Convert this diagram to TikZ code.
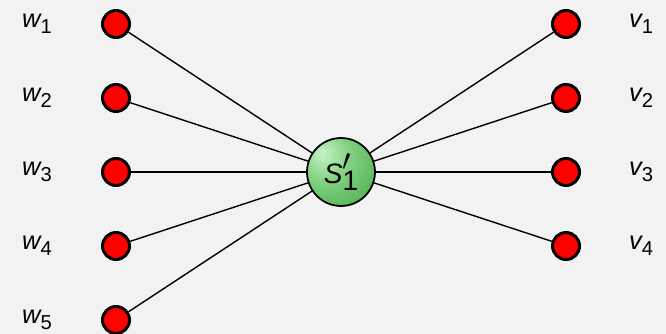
\documentclass[tikz,border=0pt]{standalone}
\usepackage{fontspec}
\setmainfont{Liberation Sans}
\usepackage{tikz}
\definecolor{bgray}{RGB}{242,242,242}
\definecolor{nodered}{RGB}{255,0,0}
\definecolor{gtop}{RGB}{200,242,200}
\definecolor{gmid}{RGB}{130,210,130}
\definecolor{gbot}{RGB}{60,160,60}
\pgfdeclareradialshading{greenball}{\pgfpoint{-14bp}{14bp}}{color(0bp)=(gtop); color(18bp)=(gmid); color(52bp)=(gbot); color(100bp)=(gbot)}
\newcommand{\vlabel}[2]{{\itshape #1}\raisebox{-0.45ex}{\fontsize{11.5}{12}\selectfont #2}}

\begin{document}
\begin{tikzpicture}[
      x=0.02cm,y=-0.02cm,
      leaf/.style={circle,draw=black,line width=1.7pt,fill=nodered,minimum size=0.54cm,inner sep=0pt},
      hub/.style={circle,draw=black,line width=1pt,shading=greenball,minimum size=1.36cm,inner sep=0pt},
      tag/.style={font=\fontsize{14.5}{16}\selectfont,inner sep=0pt},
      edge/.style={line width=0.8pt}
    ]
      \fill[bgray] (0,0) rectangle (666,334);
      \useasboundingbox (0,0) rectangle (666,334);
      \node[hub] (s) at (341,172) {\fontsize{16}{18}\selectfont\itshape S\rlap{\raisebox{0.85ex}{\upshape$\prime$}}\raisebox{-0.5ex}{\upshape 1}\hspace{1pt}};
      % left side
      \node[leaf] (w1) at (116,24) {};
      \node[leaf] (w2) at (116,98) {};
      \node[leaf] (w3) at (116,172) {};
      \node[leaf] (w4) at (116,246) {};
      \node[leaf] (w5) at (116,320) {};
      \node[tag] (lw1) at (37,24) {\vlabel{w}{1}};
      \node[tag] (lw2) at (37,98) {\vlabel{w}{2}};
      \node[tag] (lw3) at (37,172) {\vlabel{w}{3}};
      \node[tag] (lw4) at (37,246) {\vlabel{w}{4}};
      \node[tag] (lw5) at (37,320) {\vlabel{w}{5}};
      % right side
      \node[leaf] (v1) at (566,24) {};
      \node[leaf] (v2) at (566,98) {};
      \node[leaf] (v3) at (566,172) {};
      \node[leaf] (v4) at (566,246) {};
      \node[tag] (lv1) at (641,24) {\vlabel{v}{1}};
      \node[tag] (lv2) at (641,98) {\vlabel{v}{2}};
      \node[tag] (lv3) at (641,172) {\vlabel{v}{3}};
      \node[tag] (lv4) at (641,246) {\vlabel{v}{4}};
      \draw[edge] (w1) -- (s);
      \draw[edge] (w2) -- (s);
      \draw[edge] (w3) -- (s);
      \draw[edge] (w4) -- (s);
      \draw[edge] (w5) -- (s);
      \draw[edge] (v1) -- (s);
      \draw[edge] (v2) -- (s);
      \draw[edge] (v3) -- (s);
      \draw[edge] (v4) -- (s);
    \end{tikzpicture}
\end{document}
